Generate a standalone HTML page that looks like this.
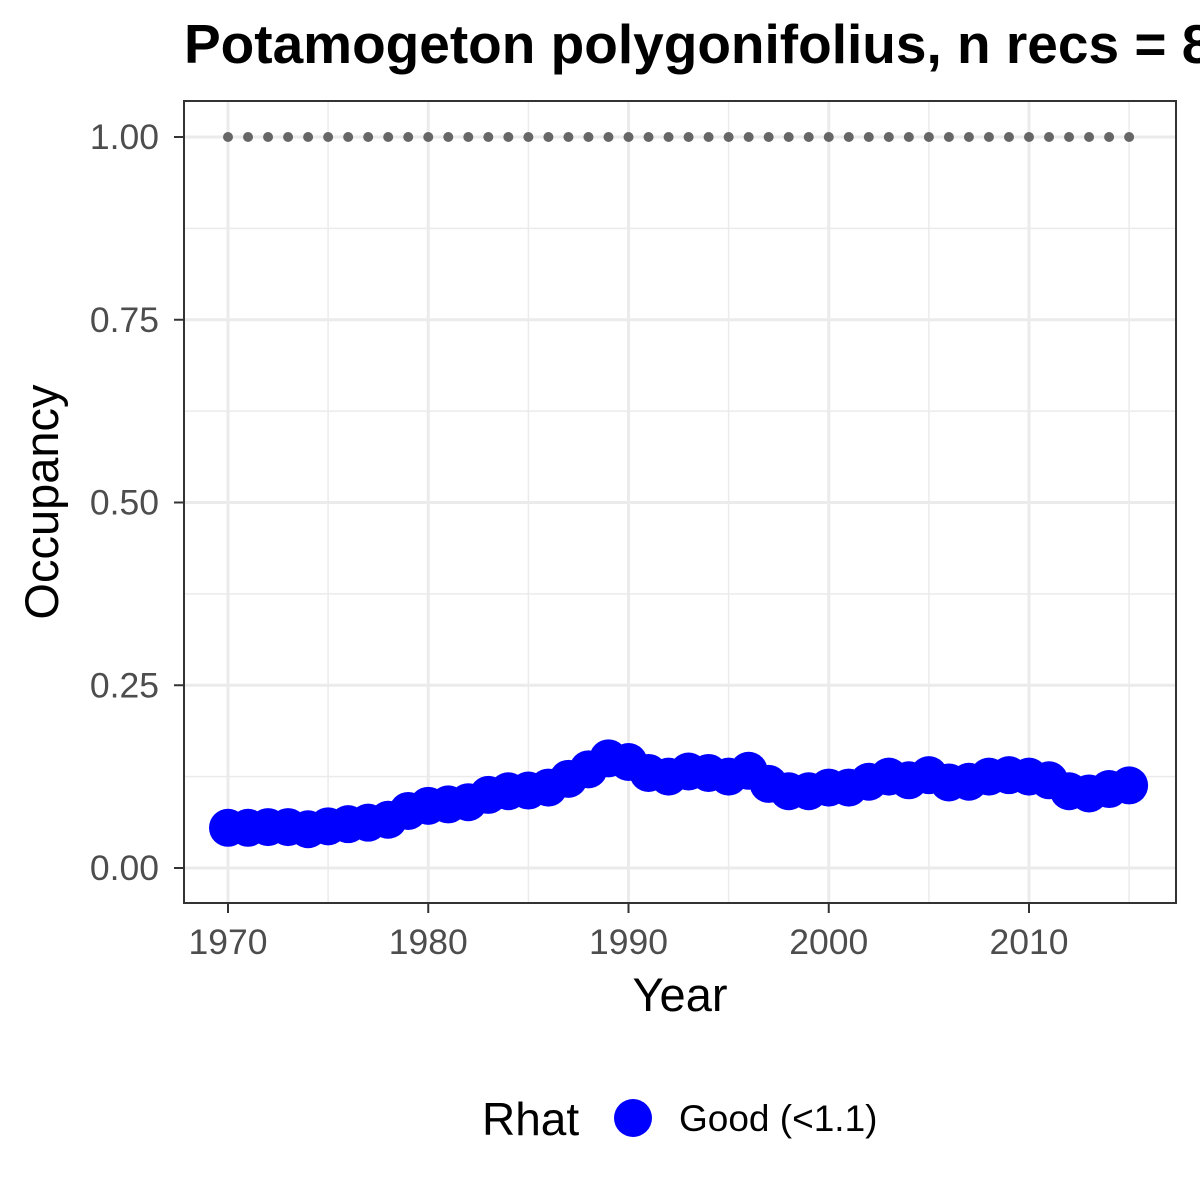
<!DOCTYPE html>
<html><head><meta charset="utf-8"><style>
body{margin:0;background:#fff;overflow:hidden}
svg{display:block;font-family:"Liberation Sans",Arial,sans-serif}
</style></head><body>
<svg id="chart" width="1200" height="1200">
<text x="184" y="63" font-size="55" font-weight="bold" fill="#000">Potamogeton polygonifolius, n recs = 8</text>
<g id="grid"></g>
<g id="marks"></g>
<rect x="184" y="101" width="992" height="802" fill="none" stroke="#333" stroke-width="2"/>
<g id="axes"></g>
<text x="680" y="1011" font-size="47" text-anchor="middle" fill="#000">Year</text>
<text transform="translate(58,502) rotate(-90)" font-size="47" text-anchor="middle" fill="#000">Occupancy</text>
<g>
<text x="482" y="1135" font-size="46" fill="#000">Rhat</text>
<circle cx="633" cy="1118" r="19" fill="#0000ff"/>
<text x="679" y="1131" font-size="37" fill="#000">Good (&lt;1.1)</text>
</g>
</svg>
<script>
const years=[];for(let y=1970;y<=2015;y++)years.push(y);
const occupancy=[0.055,0.055,0.056,0.056,0.053,0.057,0.06,0.062,0.066,0.078,0.085,0.087,0.09,0.1,0.105,0.106,0.11,0.122,0.135,0.15,0.145,0.13,0.125,0.132,0.13,0.125,0.133,0.115,0.105,0.105,0.11,0.11,0.118,0.125,0.12,0.127,0.117,0.118,0.125,0.127,0.125,0.12,0.105,0.102,0.108,0.113];
const referenceValue=[1];
const xTicks=[1970,1980,1990,2000,2010];
const xMinor=[1975,1985,1995,2005,2015];
const yTicks=[0,0.25,0.5,0.75,1];
const yTickLabels=["0.00","0.25","0.50","0.75","1.00"];
const yMinor=[0.125,0.375,0.625,0.875];
const NS="http://www.w3.org/2000/svg";
const X=v=>228+(v-1970)*20.025;
const Y=v=>868-v*731;
function mk(tag,attrs,parent){const e=document.createElementNS(NS,tag);for(const k in attrs)e.setAttribute(k,attrs[k]);parent.appendChild(e);return e;}
const grid=document.getElementById('grid'),marks=document.getElementById('marks'),axes=document.getElementById('axes');
mk('rect',{x:184,y:101,width:992,height:802,fill:'#fff'},grid);
yMinor.forEach(v=>{const l=mk('line',{x1:184,x2:1176,y1:Y(v),y2:Y(v),stroke:'#ebebeb','stroke-width':1.5},grid);

});
xMinor.forEach(v=>{const l=mk('line',{x1:X(v),x2:X(v),y1:101,y2:903,stroke:'#ebebeb','stroke-width':1.5},grid);

});
yTicks.forEach((v,i)=>{const l=mk('line',{x1:184,x2:1176,y1:Y(v),y2:Y(v),stroke:'#ebebeb','stroke-width':3},grid);


const t=mk('line',{x1:174,x2:184,y1:Y(v),y2:Y(v),stroke:'#333','stroke-width':2},axes);


const tx=mk('text',{x:159,y:Y(v)+12,'font-size':35.5,'text-anchor':'end',fill:'#4d4d4d'},axes);tx.textContent=yTickLabels[i];

});
xTicks.forEach(v=>{const l=mk('line',{x1:X(v),x2:X(v),y1:101,y2:903,stroke:'#ebebeb','stroke-width':3},grid);


const t=mk('line',{x1:X(v),x2:X(v),y1:903,y2:913,stroke:'#333','stroke-width':2},axes);


const tx=mk('text',{x:X(v),y:954,'font-size':35.5,'text-anchor':'middle',fill:'#4d4d4d'},axes);tx.textContent=v;

});
years.forEach(y=>{const c=mk('circle',{cx:X(y),cy:Y(referenceValue[0]),r:5,fill:'#666'},marks);

});
const pl=mk('polyline',{points:years.map((y,i)=>X(y)+','+Y(occupancy[i])).join(' '),fill:'none',stroke:'#0000ff','stroke-width':12},marks);


years.forEach((y,i)=>{const c=mk('circle',{cx:X(y),cy:Y(occupancy[i]),r:19,fill:'#0000ff'},marks);

});
</script>
</body></html>
